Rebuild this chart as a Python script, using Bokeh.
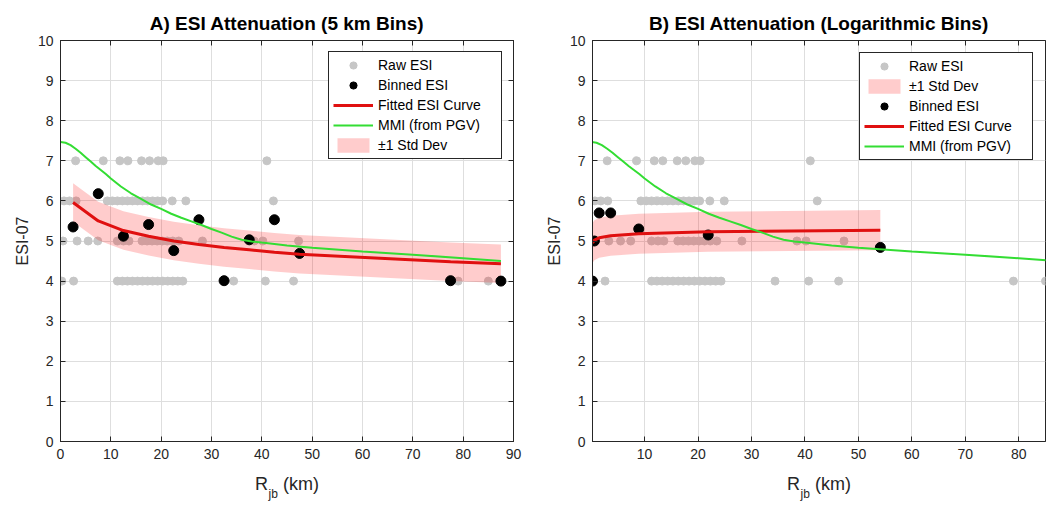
from bokeh.plotting import figure
from bokeh.models import Range1d, LinearAxis, Legend, LegendItem, Title, FixedTicker
from bokeh.layouts import row
from bokeh.embed import file_html
from bokeh.resources import INLINE

# ---------------- data ----------------
# raw ESI observations (distance in km), grouped by intensity level
raw_r_esi7 = [3.0, 8.5, 11.8, 13.4, 16.1, 17.7, 19.4, 20.4, 41.0]
raw_r_esi6 = [0.7, 1.8, 3.1, 9.3, 10.3, 11.3, 12.3, 13.3, 14.3, 15.3, 16.3, 17.3,
              18.3, 19.3, 20.3, 22.2, 24.9, 42.3]
raw_r_esi5 = [0.5, 3.3, 5.5, 7.4, 11.3, 12.5, 13.6, 16.2, 17.2, 18.2, 19.2, 20.2,
              21.2, 22.3, 23.5, 28.2, 38.5, 40.2, 47.3]
raw_r_esi4 = [0.25, 2.6, 11.3, 12.3, 13.3, 14.3, 15.3, 16.3, 17.3, 18.3, 19.3, 20.3,
              21.3, 22.3, 23.3, 24.3, 34.4, 40.7, 46.3, 79.0, 85.0]

# panel A: 5 km bins
bin_r_a = [2.5, 7.5, 12.5, 17.5, 22.5, 27.5, 32.5, 37.5, 42.5, 47.5, 77.5, 87.5]
bin_esi_a = [5.35, 6.18, 5.12, 5.41, 4.76, 5.53, 4.01, 5.03, 5.53, 4.69, 4.01, 4.0]
fit_a = [5.96, 5.50, 5.26, 5.12, 5.00, 4.91, 4.84, 4.78, 4.72, 4.67, 4.48, 4.43]
std_a = 0.48

# panel B: logarithmic bins
bin_r_b = [0.25, 0.6, 1.5, 3.65, 8.9, 21.9, 54.1]
bin_esi_b = [4.0, 5.0, 5.70, 5.70, 5.30, 5.15, 4.84]
fit_b = [4.95, 5.02, 5.08, 5.13, 5.18, 5.23, 5.27]
std_b = 0.5

# MMI predicted from PGV
mmi_r = [0, 1, 2, 3, 4, 5, 6, 7, 8, 9, 10, 12, 14, 16, 18, 20, 22, 24, 26, 28,
         30, 32, 34, 36, 38, 40, 45, 50, 60, 70, 80, 87.5]
mmi_v = [7.47, 7.45, 7.39, 7.30, 7.20, 7.09, 6.98, 6.87, 6.77, 6.67, 6.56, 6.36,
         6.19, 6.05, 5.91, 5.80, 5.68, 5.58, 5.49, 5.40, 5.30, 5.21, 5.11, 5.03,
         4.99, 4.96, 4.89, 4.83, 4.74, 4.66, 4.57, 4.50]

titles = ["A) ESI Attenuation (5 km Bins)", "B) ESI Attenuation (Logarithmic Bins)"]
y_ticks = list(range(0, 11))
x_ticks_a = list(range(0, 91, 10))
x_ticks_b = list(range(10, 81, 10))

# ---------------- styling ----------------
FONT = "Liberation Sans"
AX = "#262626"
GREY = "#c6c6c6"
RED = "#e01010"
GREEN = "#33dd33"
BAND = "#ff0000"
NB = "\u00a0"

raw_r = raw_r_esi7 + raw_r_esi6 + raw_r_esi5 + raw_r_esi4
raw_esi = ([7] * len(raw_r_esi7) + [6] * len(raw_r_esi6) +
           [5] * len(raw_r_esi5) + [4] * len(raw_r_esi4))

H = 506
MB_TOP, MB_BOT = 40, 65


def make_fig(width, mb_left, mb_right, xr, xticks, right_axis, title):
    p = figure(width=width, height=H, x_range=Range1d(*xr), y_range=Range1d(0, 10),
               output_backend="svg", toolbar_location=None,
               min_border_left=mb_left, min_border_right=mb_right,
               min_border_top=MB_TOP, min_border_bottom=MB_BOT)
    p.background_fill_color = "white"
    p.border_fill_color = "white"
    p.outline_line_color = AX
    p.outline_line_alpha = 1

    p.title.text = title
    p.title.align = "center"
    p.title.text_font = FONT
    p.title.text_font_size = "19px"
    p.title.text_font_style = "bold"
    p.title.text_color = "black"
    p.title.standoff = 14

    p.xaxis.ticker = FixedTicker(ticks=xticks)
    p.yaxis.ticker = FixedTicker(ticks=y_ticks)
    for ax in (p.xaxis[0], p.yaxis[0]):
        ax.axis_line_color = AX
        ax.major_tick_line_color = AX
        ax.major_tick_in = 5
        ax.major_tick_out = 0
        ax.minor_tick_line_color = None
        ax.major_label_text_font = FONT
        ax.major_label_text_font_size = "14px"
        ax.major_label_text_color = AX
        ax.axis_label_text_font = FONT
        ax.axis_label_text_font_style = "normal"
        ax.axis_label_text_color = AX
    p.xaxis.major_label_standoff = 7
    p.yaxis.major_label_standoff = 7
    p.yaxis.axis_label = "ESI-07"
    p.yaxis.axis_label_text_font_size = "16px"
    p.yaxis.axis_label_standoff = 4
    # x label: R_jb (km) -> "R" and "(km)" on the axis, subscript as a title below
    p.xaxis.axis_label = "R" + NB * 3 + "(km)"
    p.xaxis.axis_label_text_font_size = "18px"
    p.xaxis.axis_label_standoff = 12
    sub = Title(text="jb", align="left", offset=208, vertical_align="top",
                standoff=-20, text_font=FONT, text_font_size="12px",
                text_font_style="normal", text_color=AX)
    p.add_layout(sub, "below")

    p.xgrid.ticker = FixedTicker(ticks=xticks)
    p.ygrid.ticker = FixedTicker(ticks=y_ticks)
    p.grid.grid_line_color = "#dedede"
    p.grid.grid_line_width = 1

    extra = [("above", xticks)]
    if right_axis:
        extra.append(("right", y_ticks))
    for side, ticks in extra:
        ax = LinearAxis(ticker=FixedTicker(ticks=ticks),
                        major_label_overrides={t: "" for t in ticks})
        ax.axis_line_color = AX
        ax.major_tick_line_color = AX
        ax.major_tick_in = 5
        ax.major_tick_out = 0
        ax.minor_tick_line_color = None
        ax.major_label_standoff = 0
        p.add_layout(ax, side)
    return p


def add_data(p, bin_r, bin_esi, fit, std, order, margin):
    r_raw = p.scatter(raw_r, raw_esi, size=8, fill_color=GREY, line_color=GREY)
    r_band = p.varea(x=bin_r, y1=[f - std for f in fit], y2=[f + std for f in fit],
                     fill_color=BAND, fill_alpha=0.2)
    r_bin = p.scatter(bin_r, bin_esi, size=10, fill_color="black", line_color="black")
    r_fit = p.line(bin_r, fit, line_color=RED, line_width=3)
    r_mmi = p.line(mmi_r, mmi_v, line_color=GREEN, line_width=2)
    lookup = {"Raw ESI": r_raw, "Binned ESI": r_bin, "Fitted ESI Curve": r_fit,
              "MMI (from PGV)": r_mmi, "\u00b11 Std Dev": r_band}
    items = [LegendItem(label=k, renderers=[lookup[k]]) for k in order]
    leg = Legend(items=items, location="top_right", margin=margin)
    leg.label_text_font = FONT
    leg.label_text_font_size = "14px"
    leg.label_text_color = "black"
    leg.glyph_width = 40
    leg.glyph_height = 18
    leg.label_height = 18
    leg.spacing = 2
    leg.padding = 4
    leg.label_standoff = 5
    leg.label_width = 119
    leg.border_line_color = AX
    leg.border_line_width = 1
    leg.border_line_alpha = 1
    leg.background_fill_color = "white"
    leg.background_fill_alpha = 1
    p.add_layout(leg)


xr_a = (0, 90)
xr_b = (0.25, 85)

pa = make_fig(532, 60, 19, xr_a, x_ticks_a, True, titles[0])
add_data(pa, bin_r_a, bin_esi_a, fit_a, std_a,
         ["Raw ESI", "Binned ESI", "Fitted ESI Curve", "MMI (from PGV)", "\u00b11 Std Dev"], 11)

pb = make_fig(514, 60, 1, xr_b, x_ticks_b, False, titles[1])
add_data(pb, bin_r_b, bin_esi_b, fit_b, std_b,
         ["Raw ESI", "\u00b11 Std Dev", "Binned ESI", "Fitted ESI Curve", "MMI (from PGV)"], 12)

layout = row(pa, pb)
open("out.html", "w").write(file_html(layout, INLINE))
